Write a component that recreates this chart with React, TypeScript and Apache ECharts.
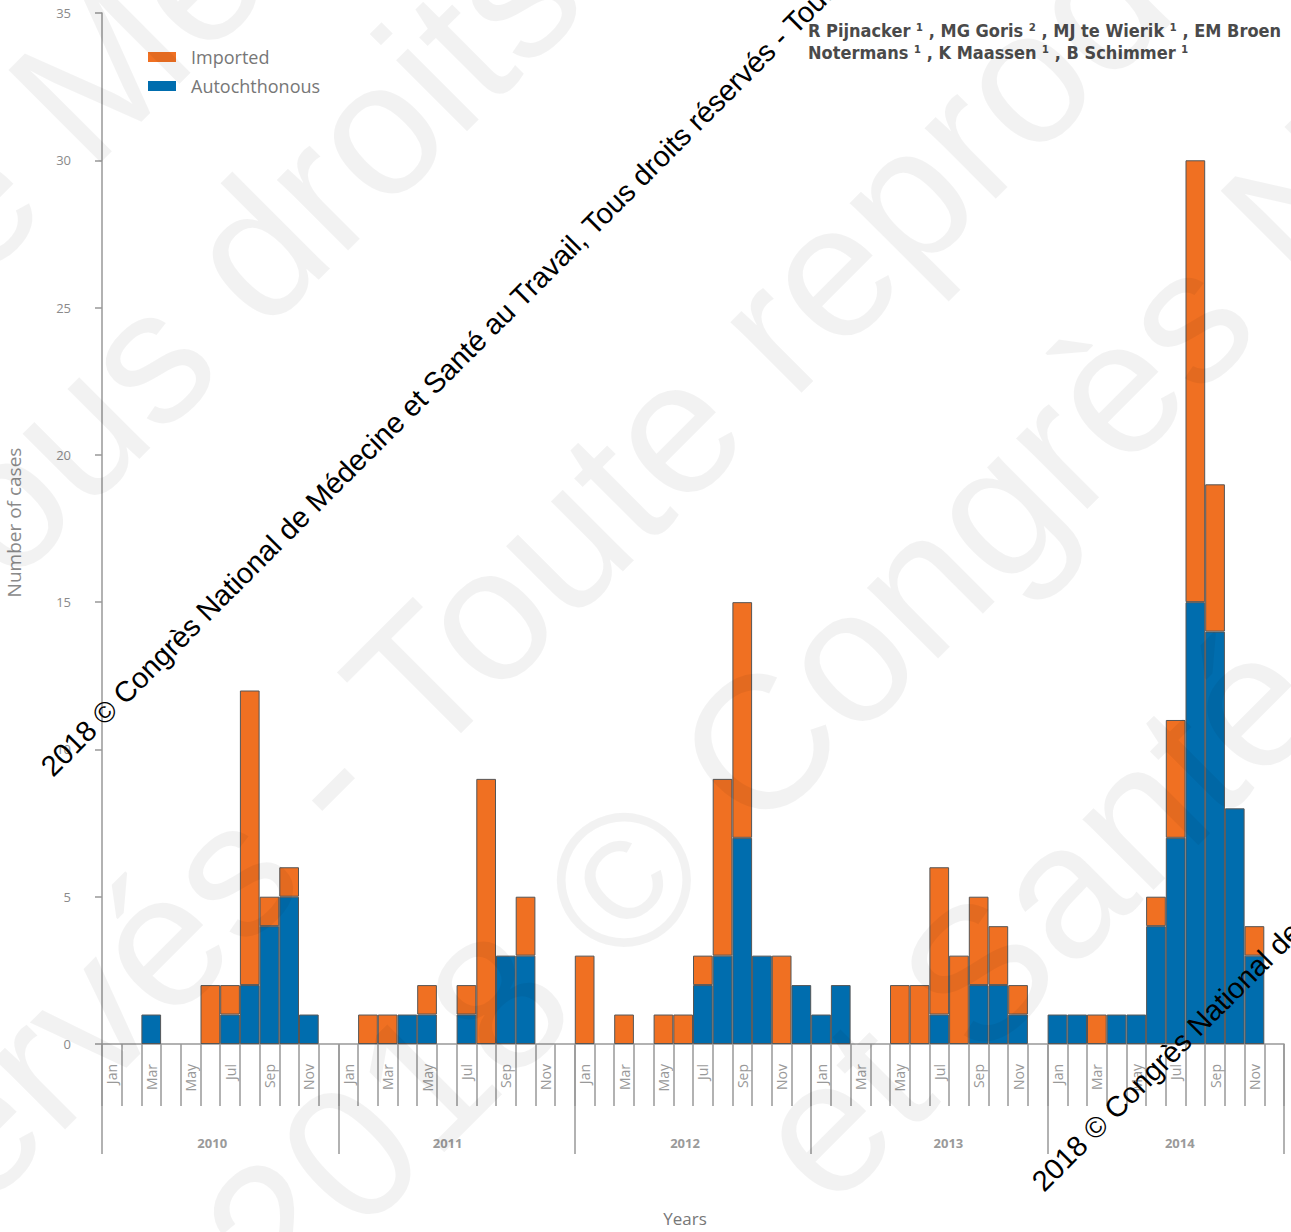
import React, { useEffect, useRef } from "react";
import * as echarts from "echarts";

const years = ["2010", "2011", "2012", "2013", "2014"];
const monthNames = ["Jan", "Feb", "Mar", "Apr", "May", "Jun", "Jul", "Aug", "Sep", "Oct", "Nov", "Dec"];

const autochthonous2010 = [0, 0, 1, 0, 0, 0, 1, 2, 4, 5, 1, 0];
const autochthonous2011 = [0, 0, 0, 1, 1, 0, 1, 0, 3, 3, 0, 0];
const autochthonous2012 = [0, 0, 0, 0, 0, 0, 2, 3, 7, 3, 0, 2];
const autochthonous2013 = [1, 2, 0, 0, 0, 0, 1, 0, 2, 2, 1, 0];
const autochthonous2014 = [1, 1, 0, 1, 1, 4, 7, 15, 14, 8, 3, 0];

const imported2010 = [0, 0, 0, 0, 0, 2, 1, 10, 1, 1, 0, 0];
const imported2011 = [0, 1, 1, 0, 1, 0, 1, 9, 0, 2, 0, 0];
const imported2012 = [3, 0, 1, 0, 1, 1, 1, 6, 8, 0, 3, 0];
const imported2013 = [0, 0, 0, 0, 2, 2, 5, 3, 3, 2, 1, 0];
const imported2014 = [0, 0, 1, 0, 0, 1, 4, 15, 5, 0, 1, 0];

const yMin = 0;
const yMax = 35;
const yStep = 5;

const seriesNames = ["Autochthonous", "Imported"];
const legendOrder = ["Imported", "Autochthonous"];
const xAxisTitle = "Years";
const yAxisTitle = "Number of cases";
const authorsLine1 = "R Pijnacker ¹ , MG Goris ² , MJ te Wierik ¹ , EM Broen";
const authorsLine2 = "Notermans ¹ , K Maassen ¹ , B Schimmer ¹";
const watermarkText =
  "2018 © Congrès National de Médecine et Santé au Travail, Tous droits réservés - Toute reproduction interdite";
const faintFragments = [
  "de Médecine",
  "Tous droits",
  "réservés - Toute reproduction",
  "2018 © Congrès National",
  "et Santé",
];

const ORANGE = "#f07022";
const BLUE = "#006dae";
const GREY = "#8a8a8a";
const NARROW = "'Liberation Sans Narrow', 'DejaVu Sans Condensed', 'Open Sans', sans-serif";
const SANS = "'Open Sans', 'Liberation Sans', sans-serif";

// horizontal nudges (px) of the year labels, as placed in the original figure
const yearLabelShift = [-8, -9, -8, 19, 14];

export default function App() {
  const ref = useRef<HTMLDivElement>(null);

  useEffect(() => {
    if (!ref.current) return;
    const chart = echarts.init(ref.current, null, { renderer: "svg" });

    const categories = years.flatMap((y) => monthNames.map((m) => `${m} ${y}`));
    const auto = [
      ...autochthonous2010,
      ...autochthonous2011,
      ...autochthonous2012,
      ...autochthonous2013,
      ...autochthonous2014,
    ];
    const imp = [...imported2010, ...imported2011, ...imported2012, ...imported2013, ...imported2014];
    const toBars = (arr: number[]) => arr.map((v) => (v === 0 ? null : v));

    const yearRich: Record<string, any> = {};
    yearLabelShift.forEach((d, i) => {
      yearRich["y" + i] = {
        fontSize: 13,
        fontWeight: "bold",
        color: "#9a9a9a",
        fontFamily: SANS,
        padding: d >= 0 ? [0, 0, 0, 2 * d] : [0, -2 * d, 0, 0],
      };
    });

    const faintPos = [
      [241, -71],
      [221, 284],
      [620, 481],
      [993, 510],
      [1034, 916],
    ];

    const graphic: any[] = [
      {
        type: "text",
        x: 685,
        y: 1218,
        style: {
          text: xAxisTitle,
          fontSize: 17,
          fontFamily: SANS,
          fill: "#777",
          align: "center",
          verticalAlign: "middle",
        },
      },
      {
        type: "text",
        x: 808,
        y: 30,
        style: {
          text: authorsLine1,
          fontSize: 18,
          fontWeight: "bold",
          fontFamily: NARROW,
          fill: "#4a4a4a",
          align: "left",
          verticalAlign: "middle",
        },
      },
      {
        type: "text",
        x: 808,
        y: 52,
        style: {
          text: authorsLine2,
          fontSize: 18,
          fontWeight: "bold",
          fontFamily: NARROW,
          fill: "#4a4a4a",
          align: "left",
          verticalAlign: "middle",
        },
      },
    ];

    faintFragments.forEach((t, i) => {
      graphic.push({
        type: "text",
        x: faintPos[i][0],
        y: faintPos[i][1],
        rotation: Math.PI / 4,
        z: 90,
        silent: true,
        style: {
          text: t,
          fontSize: 190,
          fontFamily: "'Liberation Sans', Arial, sans-serif",
          fill: "rgba(0,0,0,0.05)",
          align: "center",
          verticalAlign: "middle",
        },
      });
    });

    [
      [46, 771],
      [1037, 1186],
    ].forEach((p) => {
      graphic.push({
        type: "text",
        x: p[0],
        y: p[1],
        rotation: Math.PI / 4,
        z: 100,
        silent: true,
        style: {
          text: watermarkText,
          fontSize: 29,
          fontFamily: "'Liberation Sans', Arial, sans-serif",
          fill: "#000",
          align: "left",
          verticalAlign: "middle",
        },
      });
    });

    chart.setOption({
      animation: false,
      backgroundColor: "#fff",
      grid: { left: 102, right: 7, top: 13, bottom: 188, containLabel: false, outerBoundsMode: "none" },
      legend: {
        data: legendOrder,
        orient: "vertical",
        left: 143,
        top: 43,
        itemWidth: 28,
        itemHeight: 10,
        itemGap: 11,
        icon: "rect",
        itemStyle: { borderWidth: 0 },
        textStyle: { fontSize: 18, color: "#777", fontFamily: SANS, padding: [0, 0, 0, 10] },
      },
      xAxis: [
        {
          type: "category",
          data: categories,
          boundaryGap: true,
          axisLine: { show: true, onZero: true, lineStyle: { color: "#999", width: 1.5 } },
          axisTick: { show: true, interval: 0, length: 62, lineStyle: { color: "#999", width: 1.5 } },
          axisLabel: {
            interval: 1,
            rotate: 90,
            margin: 20,
            fontSize: 14,
            color: "#999",
            fontFamily: SANS,
            formatter: (v: string) => v.split(" ")[0],
          },
          splitLine: { show: false },
        },
        {
          type: "category",
          data: years,
          position: "bottom",
          boundaryGap: true,
          axisLine: { show: false },
          axisTick: { show: true, interval: 0, length: 110, lineStyle: { color: "#999", width: 1.5 } },
          axisLabel: {
            margin: 92,
            formatter: (v: string) => `{y${years.indexOf(v)}|${v}}`,
            rich: yearRich,
          },
          splitLine: { show: false },
        },
      ],
      yAxis: {
        type: "value",
        min: yMin,
        max: yMax,
        interval: yStep,
        name: yAxisTitle,
        nameLocation: "middle",
        nameGap: 79,
        nameTextStyle: { fontSize: 19, color: GREY, fontFamily: SANS, padding: [0, 0, 0, 12] },
        axisLine: { show: true, lineStyle: { color: "#999", width: 1.5 } },
        axisTick: { show: true, length: 7, lineStyle: { color: "#999", width: 1.5 } },
        axisLabel: { margin: 31, fontSize: 13, color: GREY, fontFamily: SANS },
        splitLine: { show: false },
      },
      series: [
        {
          name: seriesNames[0],
          type: "bar",
          stack: "cases",
          barWidth: "100%",
          barCategoryGap: "0%",
          data: toBars(auto),
          itemStyle: { color: BLUE, borderColor: "#555", borderWidth: 1 },
        },
        {
          name: seriesNames[1],
          type: "bar",
          stack: "cases",
          barWidth: "100%",
          barCategoryGap: "0%",
          data: toBars(imp),
          itemStyle: { color: ORANGE, borderColor: "#555", borderWidth: 1 },
        },
      ],
      graphic,
    });

    return () => chart.dispose();
  }, []);

  return (
    <div
      ref={ref}
      style={{ position: "absolute", left: 0, top: 0, width: 1291, height: 1232, background: "#fff" }}
    />
  );
}
